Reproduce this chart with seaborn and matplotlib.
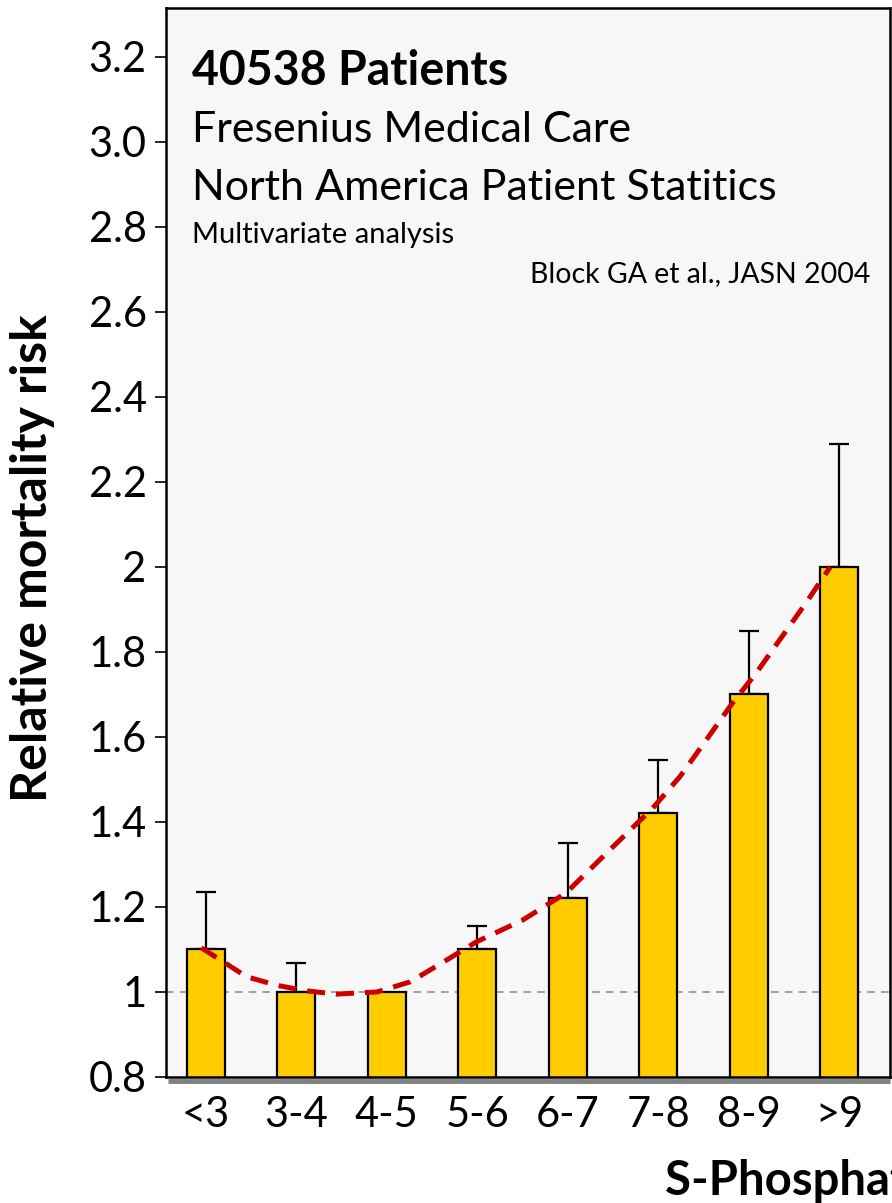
import matplotlib
matplotlib.use("Agg")
import matplotlib.pyplot as plt
import numpy as np
import pandas as pd
import seaborn as sns

# data
categories = ["<3", "3-4", "4-5", "5-6", "6-7", "7-8", "8-9", ">9"]
risk = [1.10, 1.00, 1.00, 1.10, 1.22, 1.42, 1.70, 2.00]
upper_ci = [1.235, 1.068, None, 1.155, 1.35, 1.546, 1.85, 2.29]

# dashed trend curve (x in category units)
trend_x = [-0.05, 0.45, 0.78, 1.1, 1.44, 1.89, 2.26, 2.66, 2.99, 3.5,
           3.98, 4.52, 4.94, 5.24, 5.53, 5.82, 6.08, 6.34, 6.64, 6.9]
trend_y = [1.104, 1.036, 1.016, 1.003, 0.995, 1.0, 1.024, 1.075, 1.118, 1.169,
           1.233, 1.346, 1.433, 1.507, 1.593, 1.68, 1.75, 1.828, 1.918, 2.0]

ytick_vals = [0.8, 1.0, 1.2, 1.4, 1.6, 1.8, 2.0, 2.2, 2.4, 2.6, 2.8, 3.0, 3.2]
ytick_labels = ["0.8", "1", "1.2", "1.4", "1.6", "1.8", "2", "2.2", "2.4", "2.6",
                "2.8", "3.0", "3.2"]

sns.set_style("ticks")
plt.rcParams["font.family"] = ["Lato", "DejaVu Sans"]
plt.rcParams["text.color"] = "black"
plt.rcParams["xtick.color"] = "black"
plt.rcParams["ytick.color"] = "black"
plt.rcParams["axes.labelcolor"] = "black"

W, H = 892, 1203
fig = plt.figure(figsize=(W / 100, H / 100), dpi=100)
ax = fig.add_axes([166 / W, 1 - 1077 / H, (890 - 166) / W, (1077 - 8) / H])
ax.set_facecolor("#F7F7F7")

df = pd.DataFrame({"group": categories, "risk": risk})
sns.barplot(data=df, x="group", y="risk", color="#FFCC00", width=0.42,
            edgecolor="black", linewidth=1.6, saturation=1, zorder=2, ax=ax)

# upper-only error bars
pos = np.arange(len(categories))
mask = [u is not None for u in upper_ci]
ex = pos[mask]
ey = np.array(risk)[mask]
eu = np.array([u for u in upper_ci if u is not None]) - ey
ax.errorbar(ex, ey, yerr=[np.zeros_like(eu), eu], fmt="none", ecolor="black",
            elinewidth=1.6, capsize=7.5, capthick=1.6, zorder=1.5)

ax.axhline(1.0, color="#888888", lw=1.1, ls=(0, (5, 4)), zorder=0.5)

sns.lineplot(x=trend_x, y=trend_y, color="#CC0000", lw=3.6, sort=False,
             linestyle=(0, (3.6, 2.2)), zorder=3, ax=ax)

ax.set_ylim(0.8, 3.315)
ax.set_xlim(-0.44, 7.56)
ax.set_yticks(ytick_vals)
ax.set_yticklabels(ytick_labels)
ax.tick_params(axis="y", labelsize=30, length=8, width=1.2, pad=6)
ax.tick_params(axis="x", labelsize=30, length=0, pad=14)
ax.set_xlabel("")
ax.set_ylabel("")
for s in ax.spines.values():
    s.set_linewidth(1.8)
    s.set_color("black")

# grey floor under the x axis
ax.plot([0.003, 1.0], [-0.0035, -0.0035], transform=ax.transAxes, color="#808080",
        lw=3.5, clip_on=False, solid_capstyle="butt", zorder=0)

def fx(px):
    return px / W

def fy(py):
    return 1 - py / H

fig.text(fx(192), fy(85), "40538 Patients", fontsize=33.5, fontweight="bold",
         va="baseline", ha="left")
fig.text(fx(192), fy(142), "Fresenius Medical Care", fontsize=31,
         va="baseline", ha="left")
fig.text(fx(192), fy(200), "North America Patient Statitics", fontsize=31,
         va="baseline", ha="left")
fig.text(fx(192), fy(243), "Multivariate analysis", fontsize=21,
         va="baseline", ha="left")
fig.text(fx(870), fy(282), "Block GA et al., JASN 2004", fontsize=20.5,
         va="baseline", ha="right")

fig.text(fx(33), fy(558), "Relative mortality risk", fontsize=36, fontweight="bold",
         rotation=90, ha="center", va="center")
fig.text(fx(665), fy(1196), "S-Phosphate (mg/dL)", fontsize=34, fontweight="bold",
         ha="left", va="baseline")

fig.savefig("out.png", dpi=100)
